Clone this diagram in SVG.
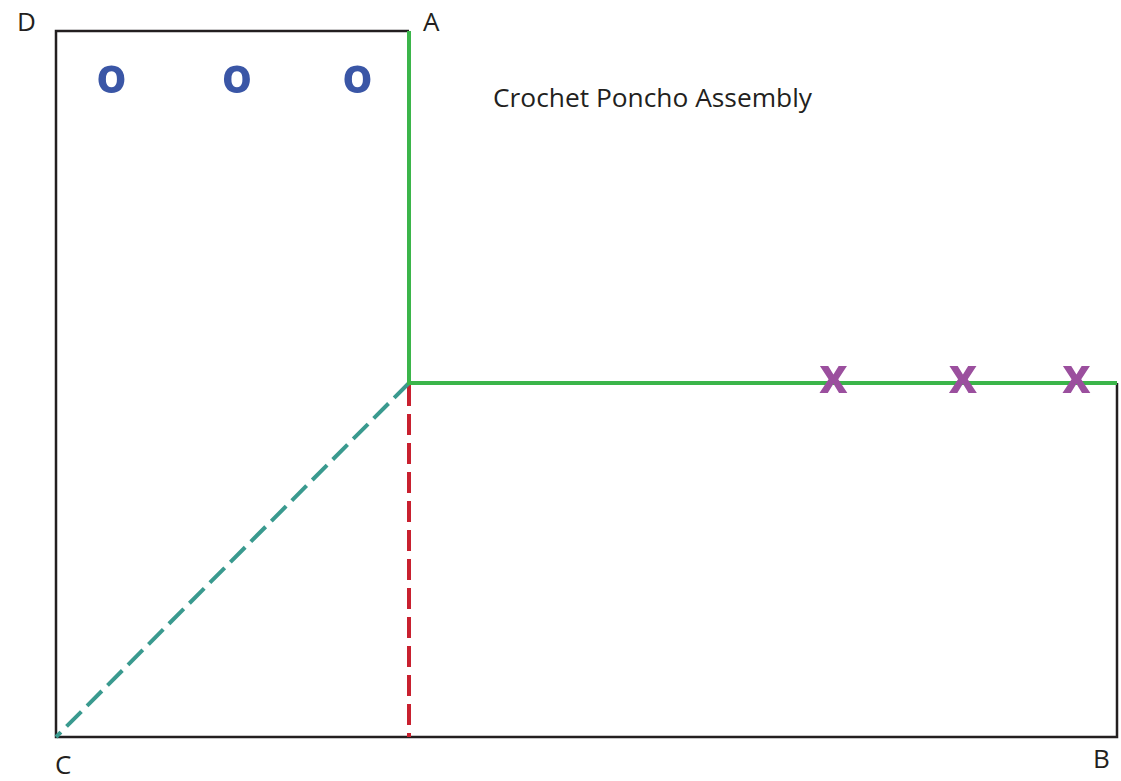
<svg xmlns="http://www.w3.org/2000/svg" width="1121" height="781" viewBox="0 0 1121 781">
<style>
.lbl{font-family:"Open Sans","Liberation Sans",sans-serif;font-size:26px;fill:#231F20}
.o{font-family:"Open Sans","Liberation Sans",sans-serif;font-weight:bold;font-size:49px;fill:#3A56A6;text-anchor:middle}
.x{font-family:"Open Sans","Liberation Sans",sans-serif;font-weight:bold;font-size:49px;fill:#9B4F9E;text-anchor:middle}
.blk{stroke:#231F20;stroke-width:2.5;fill:none}
.grn{stroke:#3BB54A;stroke-width:4;fill:none}
.dash{stroke-width:4;fill:none;stroke-dasharray:21 8}
</style>
<rect width="1121" height="781" fill="#fff"/>
<g id="connectors">
<polyline class="blk" points="409,31 56,31 56,737 1117,737 1117,383"/>
<line class="dash" stroke="#C8202F" x1="409" y1="385" x2="409" y2="737"/>
<line class="dash" stroke="#3A9A8F" x1="409" y1="383" x2="56" y2="737"/>
<polyline class="grn" points="409,31 409,383 1117,383"/>
</g>
<g id="marks-o">
<text class="o" x="111.5" y="93">o</text>
<text class="o" x="237" y="93">o</text>
<text class="o" x="357.5" y="93">o</text>
</g>
<g id="marks-x">
<text class="x" x="833.5" y="393">x</text>
<text class="x" x="963" y="393">x</text>
<text class="x" x="1076.5" y="393">x</text>
</g>
<g id="label-D"><text class="lbl" x="17" y="31">D</text></g>
<g id="label-A"><text class="lbl" x="423" y="31">A</text></g>
<g id="label-C"><text class="lbl" x="55" y="774">C</text></g>
<g id="label-B"><text class="lbl" x="1093" y="768">B</text></g>
<g id="title"><text class="lbl" x="493" y="107" textLength="319" lengthAdjust="spacingAndGlyphs">Crochet Poncho Assembly</text></g>
</svg>
